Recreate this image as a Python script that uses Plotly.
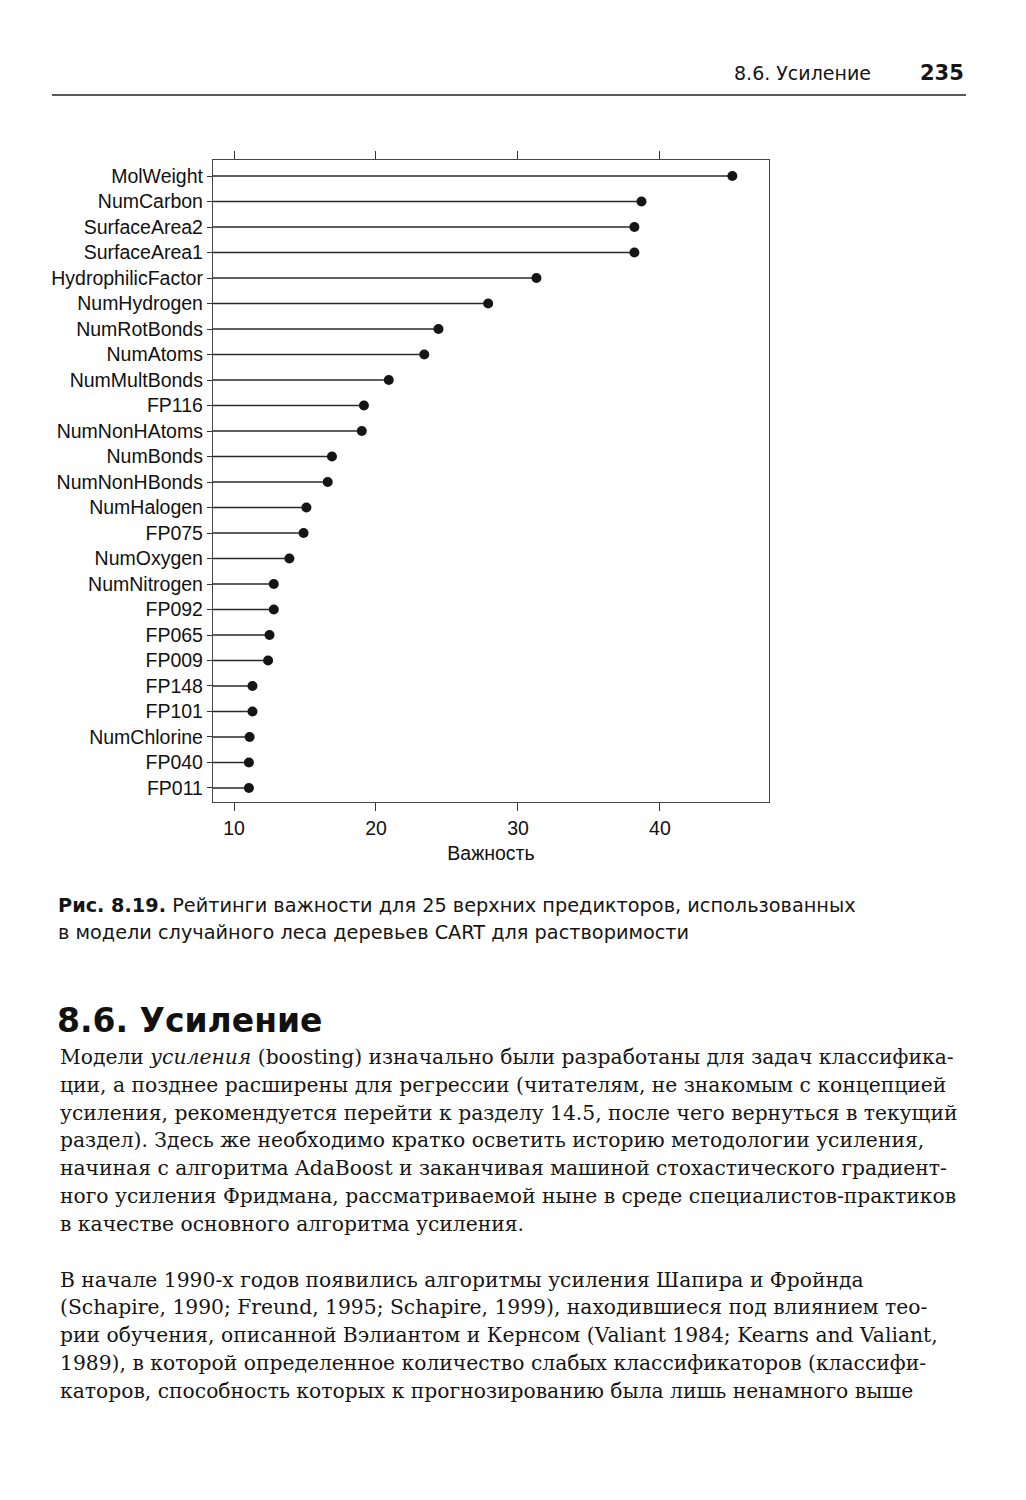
import plotly.graph_objects as go

# ---- data ----
predictors = ["MolWeight", "NumCarbon", "SurfaceArea2", "SurfaceArea1", "HydrophilicFactor",
              "NumHydrogen", "NumRotBonds", "NumAtoms", "NumMultBonds", "FP116",
              "NumNonHAtoms", "NumBonds", "NumNonHBonds", "NumHalogen", "FP075",
              "NumOxygen", "NumNitrogen", "FP092", "FP065", "FP009",
              "FP148", "FP101", "NumChlorine", "FP040", "FP011"]
importance = [45.1, 38.7, 38.2, 38.2, 31.3,
              27.9, 24.4, 23.4, 20.9, 19.15,
              19.0, 16.9, 16.6, 15.1, 14.9,
              13.9, 12.8, 12.8, 12.5, 12.4,
              11.3, 11.3, 11.1, 11.05, 11.05]
x_ticks = [10, 20, 30, 40]
x_title = "Важность"

header_section = "8.6. Усиление"
header_page = "235"
caption_bold = "Рис. 8.19."
caption_rest = [" Рейтинги важности для 25 верхних предикторов, использованных",
                "в модели случайного леса деревьев CART для растворимости"]
heading = "8.6. Усиление"
body_lines = [
    "Модели <i>усиления</i> (boosting) изначально были разработаны для задач классифика-",
    "ции, а позднее расширены для регрессии (читателям, не знакомым с концепцией",
    "усиления, рекомендуется перейти к разделу 14.5, после чего вернуться в текущий",
    "раздел). Здесь же необходимо кратко осветить историю методологии усиления,",
    "начиная с алгоритма AdaBoost и заканчивая машиной стохастического градиент-",
    "ного усиления Фридмана, рассматриваемой ныне в среде специалистов-практиков",
    "в качестве основного алгоритма усиления.",
    "В начале 1990-х годов появились алгоритмы усиления Шапира и Фройнда",
    "(Schapire, 1990; Freund, 1995; Schapire, 1999), находившиеся под влиянием тео-",
    "рии обучения, описанной Вэлиантом и Кернсом (Valiant 1984; Kearns and Valiant,",
    "1989), в которой определенное количество слабых классификаторов (классифи-",
    "каторов, способность которых к прогнозированию была лишь ненамного выше",
]

# ---- layout geometry (page pixels; the page body has an 8px margin) ----
OFF = 8
W, H = 1026 - OFF, 1500 - OFF
L, R, T, B = 213 - OFF, 769 - OFF, 160 - OFF, 802 - OFF
X_RANGE = [8.52, 47.68]
n = len(predictors)
Y_RANGE = [n - 1 + 0.55, -0.63]


def px(x):
    return (x - OFF - L) / (R - L)


def py(y):
    return (B - (y - OFF)) / (B - T)


fig = go.Figure()

# stems
xs, ys = [], []
for i, v in enumerate(importance):
    xs += [X_RANGE[0], v, None]
    ys += [i, i, None]
fig.add_trace(go.Scatter(x=xs, y=ys, mode="lines",
                         line=dict(color="#2a2a2a", width=1.4),
                         hoverinfo="skip", showlegend=False))
# dots
fig.add_trace(go.Scatter(x=importance, y=list(range(n)), mode="markers",
                         marker=dict(color="#151515", size=10),
                         showlegend=False))

axis_font = dict(family="Liberation Sans, Arial, sans-serif", size=19.5, color="#111")

fig.update_xaxes(range=X_RANGE, tickvals=x_ticks, ticks="outside", ticklen=8,
                 tickcolor="#333", tickwidth=1.3,
                 showline=True, linecolor="#444", linewidth=1.3, mirror="ticks",
                 showgrid=False, zeroline=False, tickfont=axis_font,
                 title=dict(text=x_title, font=axis_font, standoff=8))
fig.update_yaxes(range=Y_RANGE, tickvals=list(range(n)), ticktext=predictors,
                 ticks="outside", ticklen=5, tickcolor="#333", tickwidth=1.3,
                 showline=True, linecolor="#444", linewidth=1.3, mirror=True,
                 showgrid=False, zeroline=False, tickfont=axis_font)

annotations = []
text_col = "#151515"
# running header
annotations.append(dict(text=header_section, x=px(873), y=py(73), xref="paper", yref="paper",
                        xanchor="right", yanchor="middle", showarrow=False,
                        font=dict(family="DejaVu Sans, sans-serif", size=19, color=text_col)))
annotations.append(dict(text="<b>" + header_page + "</b>", x=px(966), y=py(73), xref="paper",
                        yref="paper", xanchor="right", yanchor="middle", showarrow=False,
                        font=dict(family="DejaVu Sans, sans-serif", size=21, color=text_col)))
# caption
cap_font = dict(family="DejaVu Sans, sans-serif", size=19.3, color=text_col)
annotations.append(dict(text="<b>" + caption_bold + "</b>" + caption_rest[0], x=px(56), y=py(905),
                        xref="paper", yref="paper", xanchor="left", yanchor="middle",
                        showarrow=False, font=cap_font))
annotations.append(dict(text=caption_rest[1], x=px(56), y=py(932),
                        xref="paper", yref="paper", xanchor="left", yanchor="middle",
                        showarrow=False, font=cap_font))
# heading
annotations.append(dict(text="<b>" + heading + "</b>", x=px(55), y=py(1020), xref="paper",
                        yref="paper", xanchor="left", yanchor="middle", showarrow=False,
                        font=dict(family="DejaVu Sans, sans-serif", size=33, color="#111")))
# body text
line_y = [1057, 1085, 1113, 1140, 1168, 1196, 1224, 1280, 1307, 1335, 1363, 1391]
for t, yy in zip(body_lines, line_y):
    annotations.append(dict(text=t, x=px(58), y=py(yy), xref="paper", yref="paper",
                            xanchor="left", yanchor="middle", showarrow=False,
                            font=dict(family="DejaVu Serif, serif", size=20.3, color=text_col)))

fig.update_layout(
    width=W, height=H,
    margin=dict(l=L, r=W - R, t=T, b=H - B),
    paper_bgcolor="white", plot_bgcolor="white",
    annotations=annotations,
    shapes=[dict(type="line", xref="paper", yref="paper", x0=px(52), x1=px(966),
                 y0=py(95), y1=py(95), line=dict(color="#222", width=1.5))],
    showlegend=False,
)

fig.write_html("out.html")
